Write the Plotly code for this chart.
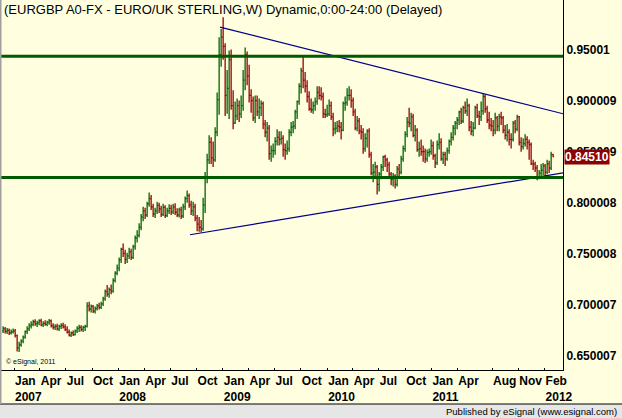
import pandas as pd
import plotly.graph_objects as go

# ---------------- data (weekly EUR/GBP bars) ----------------
dates = pd.date_range("2006-11-24", periods=276, freq="7D")

opens = [
    0.6745, 0.6765, 0.6740, 0.6750, 0.6725, 0.6735, 0.6745, 0.6700, 0.6580, 0.6610,
    0.6645, 0.6685, 0.6740, 0.6765, 0.6795, 0.6810, 0.6835, 0.6815, 0.6825, 0.6845,
    0.6805, 0.6820, 0.6810, 0.6830, 0.6845, 0.6795, 0.6780, 0.6790, 0.6765, 0.6790,
    0.6800, 0.6785, 0.6760, 0.6735, 0.6705, 0.6725, 0.6710, 0.6745, 0.6770, 0.6780,
    0.6760, 0.6780, 0.6790, 0.6990, 0.6960, 0.6985, 0.6940, 0.6965, 0.6990, 0.6975,
    0.7010, 0.7060, 0.7130, 0.7105, 0.7150, 0.7135, 0.7240, 0.7310, 0.7360, 0.7440,
    0.7545, 0.7505, 0.7445, 0.7480, 0.7520, 0.7465, 0.7570, 0.7655, 0.7680, 0.7760,
    0.7860, 0.7920, 0.7880, 0.7990, 0.8040, 0.7960, 0.7890, 0.7920, 0.7975, 0.7940,
    0.7885, 0.7955, 0.7875, 0.7920, 0.7945, 0.7910, 0.7960, 0.7905, 0.7880, 0.7930,
    0.7870, 0.7960, 0.8040, 0.8070, 0.7980, 0.7920, 0.7960, 0.7850, 0.7790, 0.7760,
    0.7745, 0.7980, 0.8250, 0.8420, 0.8590, 0.8440, 0.8420, 0.8690, 0.9010, 0.9450,
    0.9620, 0.9530, 0.9050, 0.9120, 0.9400, 0.8950, 0.8780, 0.8850, 0.8950, 0.8870,
    0.8950, 0.9200, 0.9450, 0.9240, 0.9050, 0.9000, 0.8830, 0.9000, 0.8890, 0.8930,
    0.8970, 0.8770, 0.8690, 0.8730, 0.8480, 0.8510, 0.8510, 0.8600, 0.8640, 0.8620,
    0.8630, 0.8520, 0.8510, 0.8530, 0.8690, 0.8740, 0.8750, 0.8890, 0.8990, 0.9140,
    0.9290, 0.9200, 0.9140, 0.9040, 0.8920, 0.8910, 0.8950, 0.8990, 0.9080, 0.9050,
    0.9040, 0.8870, 0.8860, 0.8870, 0.8950, 0.8840, 0.8720, 0.8730, 0.8750, 0.8740,
    0.8710, 0.8970, 0.8980, 0.9050, 0.9050, 0.9000, 0.8890, 0.8730, 0.8800, 0.8700,
    0.8690, 0.8530, 0.8630, 0.8700, 0.8470, 0.8290, 0.8300, 0.8350, 0.8180, 0.8280,
    0.8350, 0.8450, 0.8420, 0.8370, 0.8280, 0.8230, 0.8260, 0.8180, 0.8330, 0.8300,
    0.8430, 0.8530, 0.8670, 0.8790, 0.8780, 0.8840, 0.8660, 0.8710, 0.8520, 0.8530,
    0.8500, 0.8500, 0.8430, 0.8490, 0.8500, 0.8560, 0.8460, 0.8390, 0.8570, 0.8590,
    0.8430, 0.8470, 0.8430, 0.8510, 0.8600, 0.8640, 0.8730, 0.8780, 0.8810, 0.8890,
    0.8800, 0.8930, 0.8900, 0.8950, 0.8740, 0.8700, 0.8730, 0.8930, 0.8850, 0.8840,
    0.8900, 0.9040, 0.8920, 0.8810, 0.8760, 0.8750, 0.8710, 0.8830, 0.8750, 0.8840,
    0.8830, 0.8710, 0.8660, 0.8690, 0.8620, 0.8620, 0.8780, 0.8720, 0.8840, 0.8590,
    0.8550, 0.8580, 0.8620, 0.8590, 0.8570, 0.8380, 0.8380, 0.8340, 0.8240, 0.8290,
    0.8320, 0.8360, 0.8300, 0.8380, 0.8340, 0.8470,
]

highs = [
    0.6790, 0.6785, 0.6775, 0.6770, 0.6760, 0.6770, 0.6765, 0.6710, 0.6640, 0.6665,
    0.6700, 0.6750, 0.6790, 0.6820, 0.6840, 0.6855, 0.6860, 0.6845, 0.6860, 0.6865,
    0.6840, 0.6850, 0.6845, 0.6862, 0.6858, 0.6820, 0.6810, 0.6815, 0.6805, 0.6820,
    0.6825, 0.6810, 0.6790, 0.6760, 0.6740, 0.6750, 0.6760, 0.6790, 0.6805, 0.6800,
    0.6795, 0.6805, 0.7025, 0.7030, 0.7005, 0.7000, 0.6985, 0.7010, 0.7020, 0.7030,
    0.7080, 0.7150, 0.7195, 0.7170, 0.7200, 0.7260, 0.7330, 0.7395, 0.7465, 0.7560,
    0.7600, 0.7540, 0.7510, 0.7560, 0.7550, 0.7590, 0.7680, 0.7730, 0.7800, 0.7890,
    0.7960, 0.7950, 0.8010, 0.8100, 0.8075, 0.7990, 0.7950, 0.8010, 0.8000, 0.7970,
    0.7990, 0.7975, 0.7950, 0.7985, 0.7980, 0.7990, 0.7995, 0.7945, 0.7950, 0.7960,
    0.7990, 0.8060, 0.8120, 0.8090, 0.8020, 0.8010, 0.7990, 0.7880, 0.7860, 0.7830,
    0.8050, 0.8300, 0.8480, 0.8660, 0.8640, 0.8600, 0.8740, 0.9080, 0.9620, 0.9700,
    0.9815, 0.9560, 0.9300, 0.9490, 0.9500, 0.9100, 0.8990, 0.9020, 0.9000, 0.9050,
    0.9300, 0.9520, 0.9480, 0.9350, 0.9110, 0.9040, 0.9050, 0.9050, 0.9020, 0.9000,
    0.8990, 0.8810, 0.8790, 0.8760, 0.8560, 0.8580, 0.8640, 0.8720, 0.8700, 0.8700,
    0.8660, 0.8580, 0.8610, 0.8720, 0.8790, 0.8800, 0.8910, 0.9000, 0.9170, 0.9320,
    0.9430, 0.9280, 0.9200, 0.9090, 0.9020, 0.8990, 0.9030, 0.9140, 0.9140, 0.9130,
    0.9080, 0.8920, 0.8960, 0.9010, 0.8990, 0.8880, 0.8790, 0.8800, 0.8810, 0.8790,
    0.8990, 0.9040, 0.9120, 0.9140, 0.9110, 0.9030, 0.8920, 0.8850, 0.8830, 0.8760,
    0.8730, 0.8680, 0.8720, 0.8730, 0.8500, 0.8380, 0.8400, 0.8370, 0.8300, 0.8380,
    0.8460, 0.8470, 0.8440, 0.8400, 0.8300, 0.8290, 0.8280, 0.8360, 0.8380, 0.8460,
    0.8560, 0.8700, 0.8840, 0.8930, 0.8880, 0.8870, 0.8760, 0.8730, 0.8600, 0.8620,
    0.8560, 0.8530, 0.8520, 0.8530, 0.8620, 0.8600, 0.8480, 0.8610, 0.8680, 0.8630,
    0.8500, 0.8500, 0.8540, 0.8620, 0.8690, 0.8760, 0.8800, 0.8840, 0.8900, 0.8930,
    0.8950, 0.8990, 0.9020, 0.8970, 0.8800, 0.8790, 0.8950, 0.8970, 0.8900, 0.8990,
    0.9075, 0.9060, 0.8950, 0.8890, 0.8830, 0.8810, 0.8880, 0.8850, 0.8870, 0.8890,
    0.8850, 0.8760, 0.8770, 0.8720, 0.8680, 0.8800, 0.8810, 0.8860, 0.8850, 0.8640,
    0.8630, 0.8670, 0.8650, 0.8620, 0.8590, 0.8420, 0.8400, 0.8370, 0.8320, 0.8380,
    0.8390, 0.8380, 0.8420, 0.8410, 0.8500, 0.8480,
]

lows = [
    0.6725, 0.6720, 0.6715, 0.6705, 0.6710, 0.6720, 0.6680, 0.6545, 0.6540, 0.6590,
    0.6625, 0.6670, 0.6715, 0.6745, 0.6770, 0.6790, 0.6795, 0.6785, 0.6800, 0.6790,
    0.6785, 0.6795, 0.6790, 0.6805, 0.6780, 0.6760, 0.6755, 0.6750, 0.6745, 0.6765,
    0.6770, 0.6745, 0.6720, 0.6690, 0.6685, 0.6695, 0.6700, 0.6725, 0.6735, 0.6740,
    0.6735, 0.6745, 0.6780, 0.6935, 0.6925, 0.6920, 0.6915, 0.6945, 0.6955, 0.6960,
    0.6990, 0.7040, 0.7080, 0.7070, 0.7105, 0.7120, 0.7220, 0.7290, 0.7330, 0.7410,
    0.7470, 0.7400, 0.7410, 0.7450, 0.7440, 0.7450, 0.7540, 0.7610, 0.7660, 0.7730,
    0.7820, 0.7840, 0.7860, 0.7960, 0.7930, 0.7860, 0.7850, 0.7890, 0.7900, 0.7860,
    0.7870, 0.7850, 0.7860, 0.7890, 0.7880, 0.7890, 0.7880, 0.7860, 0.7855, 0.7840,
    0.7850, 0.7930, 0.8000, 0.7950, 0.7880, 0.7870, 0.7820, 0.7720, 0.7715, 0.7710,
    0.7725, 0.7900, 0.8190, 0.8380, 0.8380, 0.8350, 0.8400, 0.8650, 0.8860, 0.9330,
    0.9400, 0.8850, 0.8870, 0.8820, 0.8910, 0.8720, 0.8770, 0.8810, 0.8790, 0.8830,
    0.8900, 0.9100, 0.9150, 0.8980, 0.8880, 0.8800, 0.8780, 0.8850, 0.8820, 0.8850,
    0.8720, 0.8640, 0.8600, 0.8420, 0.8400, 0.8440, 0.8470, 0.8560, 0.8560, 0.8570,
    0.8450, 0.8420, 0.8470, 0.8500, 0.8650, 0.8680, 0.8720, 0.8820, 0.8960, 0.9070,
    0.9120, 0.9080, 0.8980, 0.8900, 0.8880, 0.8870, 0.8900, 0.8960, 0.9010, 0.9000,
    0.8830, 0.8830, 0.8840, 0.8850, 0.8810, 0.8650, 0.8670, 0.8690, 0.8690, 0.8620,
    0.8700, 0.8900, 0.8950, 0.9000, 0.8930, 0.8850, 0.8710, 0.8700, 0.8670, 0.8620,
    0.8480, 0.8500, 0.8540, 0.8440, 0.8270, 0.8200, 0.8250, 0.8080, 0.8110, 0.8230,
    0.8310, 0.8350, 0.8300, 0.8240, 0.8170, 0.8160, 0.8140, 0.8160, 0.8250, 0.8280,
    0.8400, 0.8500, 0.8640, 0.8740, 0.8700, 0.8640, 0.8600, 0.8500, 0.8450, 0.8460,
    0.8400, 0.8390, 0.8400, 0.8450, 0.8470, 0.8420, 0.8340, 0.8370, 0.8520, 0.8410,
    0.8380, 0.8360, 0.8410, 0.8480, 0.8560, 0.8610, 0.8660, 0.8720, 0.8760, 0.8770,
    0.8780, 0.8870, 0.8850, 0.8700, 0.8660, 0.8650, 0.8720, 0.8830, 0.8760, 0.8800,
    0.8860, 0.8880, 0.8780, 0.8720, 0.8700, 0.8650, 0.8670, 0.8700, 0.8700, 0.8760,
    0.8680, 0.8620, 0.8600, 0.8560, 0.8530, 0.8600, 0.8680, 0.8700, 0.8560, 0.8500,
    0.8520, 0.8550, 0.8520, 0.8420, 0.8370, 0.8320, 0.8300, 0.8220, 0.8230, 0.8250,
    0.8270, 0.8260, 0.8280, 0.8290, 0.8320, 0.8445,
]

closes = [
    0.6765, 0.6740, 0.6750, 0.6725, 0.6735, 0.6745, 0.6700, 0.6580, 0.6610, 0.6645,
    0.6685, 0.6740, 0.6765, 0.6795, 0.6810, 0.6835, 0.6815, 0.6825, 0.6845, 0.6805,
    0.6820, 0.6810, 0.6830, 0.6845, 0.6795, 0.6780, 0.6790, 0.6765, 0.6790, 0.6800,
    0.6785, 0.6760, 0.6735, 0.6705, 0.6725, 0.6710, 0.6745, 0.6770, 0.6780, 0.6760,
    0.6780, 0.6790, 0.6990, 0.6960, 0.6985, 0.6940, 0.6965, 0.6990, 0.6975, 0.7010,
    0.7060, 0.7130, 0.7105, 0.7150, 0.7135, 0.7240, 0.7310, 0.7360, 0.7440, 0.7545,
    0.7505, 0.7445, 0.7480, 0.7520, 0.7465, 0.7570, 0.7655, 0.7680, 0.7760, 0.7860,
    0.7920, 0.7880, 0.7990, 0.8040, 0.7960, 0.7890, 0.7920, 0.7975, 0.7940, 0.7885,
    0.7955, 0.7875, 0.7920, 0.7945, 0.7910, 0.7960, 0.7905, 0.7880, 0.7930, 0.7870,
    0.7960, 0.8040, 0.8070, 0.7980, 0.7920, 0.7960, 0.7850, 0.7790, 0.7760, 0.7745,
    0.7980, 0.8250, 0.8420, 0.8590, 0.8440, 0.8420, 0.8690, 0.9010, 0.9450, 0.9620,
    0.9530, 0.9050, 0.9120, 0.9400, 0.8950, 0.8780, 0.8850, 0.8950, 0.8870, 0.8950,
    0.9200, 0.9450, 0.9240, 0.9050, 0.9000, 0.8830, 0.9000, 0.8890, 0.8930, 0.8970,
    0.8770, 0.8690, 0.8730, 0.8480, 0.8510, 0.8510, 0.8600, 0.8640, 0.8620, 0.8630,
    0.8520, 0.8510, 0.8530, 0.8690, 0.8740, 0.8750, 0.8890, 0.8990, 0.9140, 0.9290,
    0.9200, 0.9140, 0.9040, 0.8920, 0.8910, 0.8950, 0.8990, 0.9080, 0.9050, 0.9040,
    0.8870, 0.8860, 0.8870, 0.8950, 0.8840, 0.8720, 0.8730, 0.8750, 0.8740, 0.8710,
    0.8970, 0.8980, 0.9050, 0.9050, 0.9000, 0.8890, 0.8730, 0.8800, 0.8700, 0.8690,
    0.8530, 0.8630, 0.8700, 0.8470, 0.8290, 0.8300, 0.8350, 0.8180, 0.8280, 0.8350,
    0.8450, 0.8420, 0.8370, 0.8280, 0.8230, 0.8260, 0.8180, 0.8330, 0.8300, 0.8430,
    0.8530, 0.8670, 0.8790, 0.8780, 0.8840, 0.8660, 0.8710, 0.8520, 0.8530, 0.8500,
    0.8500, 0.8430, 0.8490, 0.8500, 0.8560, 0.8460, 0.8390, 0.8570, 0.8590, 0.8430,
    0.8470, 0.8430, 0.8510, 0.8600, 0.8640, 0.8730, 0.8780, 0.8810, 0.8890, 0.8800,
    0.8930, 0.8900, 0.8950, 0.8740, 0.8700, 0.8730, 0.8930, 0.8850, 0.8840, 0.8900,
    0.9040, 0.8920, 0.8810, 0.8760, 0.8750, 0.8710, 0.8830, 0.8750, 0.8840, 0.8830,
    0.8710, 0.8660, 0.8690, 0.8620, 0.8620, 0.8780, 0.8720, 0.8840, 0.8590, 0.8550,
    0.8580, 0.8620, 0.8590, 0.8570, 0.8380, 0.8380, 0.8340, 0.8240, 0.8290, 0.8320,
    0.8360, 0.8300, 0.8380, 0.8340, 0.8470, 0.8451,
]

# drawn trend lines (dates, prices)
upper_trend_x = ["2008-12-22", "2012-04-05 12:00"]
upper_trend_y = [0.9719, 0.8871]
lower_trend_x = ["2008-09-08", "2012-04-05 12:00"]
lower_trend_y = [0.7687, 0.8292]

# horizontal support / resistance levels
levels = [0.9433, 0.8248]

# axis labels
x_tick_months = ["2007-01-01", "2007-04-01", "2007-07-01", "2007-10-01",
                 "2008-01-01", "2008-04-01", "2008-07-01", "2008-10-01",
                 "2009-01-01", "2009-04-01", "2009-07-01", "2009-10-01",
                 "2010-01-01", "2010-04-01", "2010-07-01", "2010-10-01",
                 "2011-01-01", "2011-04-01", "2011-08-01", "2011-11-01",
                 "2012-02-01"]
x_tick_text = ["Jan<br>2007", "Apr", "Jul", "Oct",
               "Jan<br>2008", "Apr", "Jul", "Oct",
               "Jan<br>2009", "Apr", "Jul", "Oct",
               "Jan<br>2010", "Apr", "Jul", "Oct",
               "Jan<br>2011", "Apr", "Aug", "Nov",
               "Feb<br>2012"]
y_tick_vals = [0.650007, 0.700007, 0.750008, 0.800008, 0.850009, 0.900009, 0.95001]
y_tick_text = ["0.650007", "0.700007", "0.750008", "0.800008", "0.850009", "0.900009", "0.95001"]
last_price = 0.8451
last_price_text = "0.84510"

title_text = "(EURGBP A0-FX - EURO/UK STERLING,W) Dynamic,0:00-24:00 (Delayed)"
copyright_text = "© eSignal, 2011"
footer_text = "Published by eSignal (www.esignal.com)"

# ---------------- styling ----------------
BG = "#FFFFE0"
GREEN = "#006400"
RED = "#990000"
LEVEL_GREEN = "#005a00"
NAVY = "#00008c"
FONT = "Arial, Liberation Sans, sans-serif"

W, H = 622, 418
ML, MR, MT, MB = 1, 59, 0, 48
PW = W - ML - MR
PH = H - MT - MB


def px(xpix):
    return (xpix - ML) / PW


def py(ypix):
    return (H - MB - ypix) / PH


fig = go.Figure()

fig.add_trace(go.Ohlc(
    x=dates, open=opens, high=highs, low=lows, close=closes,
    increasing=dict(line=dict(color=GREEN, width=1.3)),
    decreasing=dict(line=dict(color=RED, width=1.3)),
    tickwidth=0.5, hoverinfo="skip", showlegend=False,
))

for tx, ty in ((upper_trend_x, upper_trend_y), (lower_trend_x, lower_trend_y)):
    fig.add_trace(go.Scatter(x=tx, y=ty, mode="lines",
                             line=dict(color=NAVY, width=1.2),
                             hoverinfo="skip", showlegend=False))

shapes = []
for lv in levels:
    shapes.append(dict(type="line", xref="paper", yref="y", x0=0, x1=1, y0=lv, y1=lv,
                       line=dict(color=LEVEL_GREEN, width=3)))
# footer band
shapes.append(dict(type="rect", xref="paper", yref="paper",
                   x0=px(-2), x1=px(W + 2), y0=py(404), y1=py(H + 2),
                   fillcolor="#e6e6e6", line=dict(width=0), layer="above"))
shapes.append(dict(type="line", xref="paper", yref="paper",
                   x0=px(0), x1=px(W), y0=py(404), y1=py(404),
                   line=dict(color="#000000", width=1)))
# left frame
shapes.append(dict(type="line", xref="paper", yref="paper",
                   x0=px(0.5), x1=px(0.5), y0=py(404), y1=py(0),
                   line=dict(color="#a0a0a0", width=2)))

annotations = [
    dict(text=title_text, xref="paper", yref="paper", x=px(2), y=py(10),
         xanchor="left", yanchor="middle", showarrow=False,
         font=dict(family=FONT, size=13, color="#000000")),
    dict(text=copyright_text, xref="paper", yref="paper", x=px(4), y=py(362),
         xanchor="left", yanchor="middle", showarrow=False,
         font=dict(family=FONT, size=7, color="#000000")),
    dict(text=footer_text, xref="paper", yref="paper", x=px(619), y=py(411),
         xanchor="right", yanchor="middle", showarrow=False,
         font=dict(family=FONT, size=9.5, color="#000000")),
    dict(text="<b>" + last_price_text + "</b>", xref="paper", yref="y",
         x=px(564), y=last_price, xanchor="left", yanchor="middle", showarrow=False,
         bgcolor="#8b0000", borderpad=0,
         font=dict(family=FONT, size=12, color="#ffffff")),
]

fig.update_layout(
    width=W, height=H,
    margin=dict(l=ML, r=MR, t=MT, b=MB, pad=0),
    paper_bgcolor=BG, plot_bgcolor=BG,
    showlegend=False,
    shapes=shapes,
    annotations=annotations,
    xaxis=dict(
        type="date",
        range=["2006-11-16 12:00", "2012-04-05 12:00"],
        rangeslider=dict(visible=False),
        tickvals=x_tick_months, ticktext=x_tick_text,
        tickangle=0, ticklabelposition="outside right",
        ticks="inside", ticklen=2, tickcolor="#000000",
        showline=True, linecolor="#000000", linewidth=1,
        showgrid=False, zeroline=False,
        tickfont=dict(family=FONT, size=12, color="#000000", weight="bold"),
    ),
    yaxis=dict(
        side="right",
        range=[0.6363, 0.99843],
        tickvals=y_tick_vals, ticktext=y_tick_text,
        ticks="", showline=True, linecolor="#000000", linewidth=1,
        showgrid=False, zeroline=False,
        tickfont=dict(family=FONT, size=12, color="#000000", weight="bold"),
    ),
)

fig.write_html("out.html", config={"displayModeBar": False})
